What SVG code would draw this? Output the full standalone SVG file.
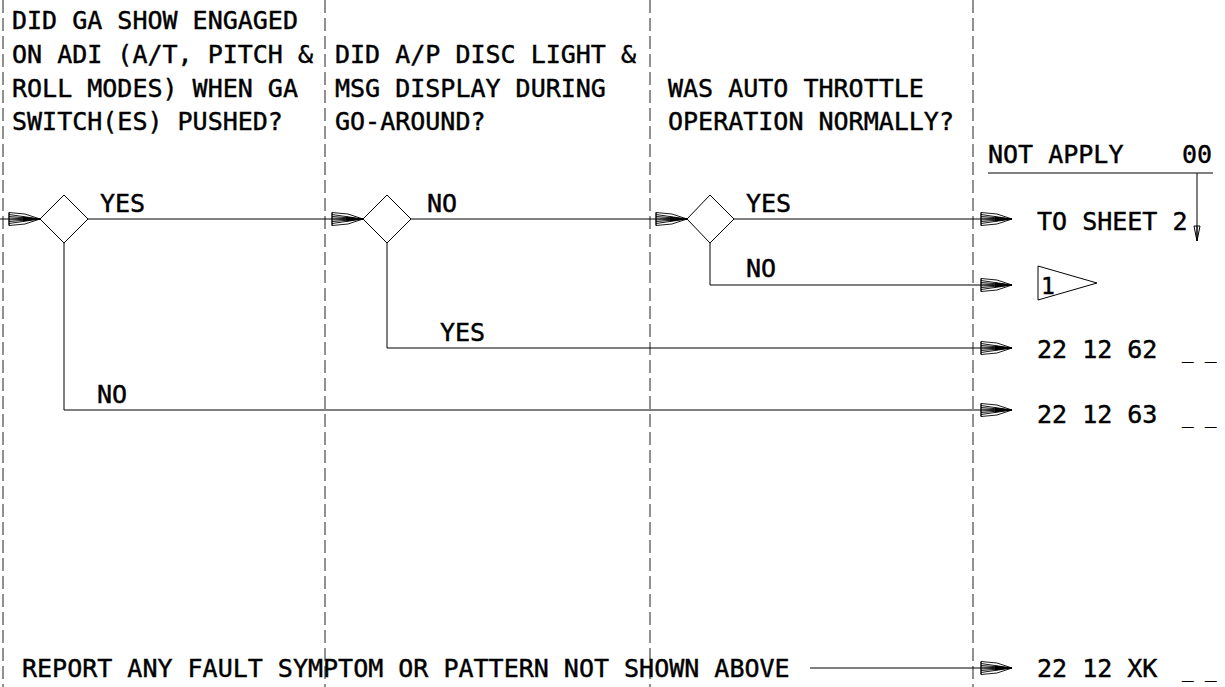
<svg xmlns="http://www.w3.org/2000/svg" width="1225" height="687" viewBox="0 0 1225 687">
<defs>
<style>
text{font-family:"DejaVu Sans Mono","Liberation Mono",monospace;font-size:25px;fill:#000;stroke:#000;stroke-width:0.45}
.us{font-size:19px}
.one{font-size:23px}
.dash{stroke:#222;stroke-width:1;stroke-dasharray:13 5;fill:none}
.ln{stroke:#000;stroke-width:1;fill:none}
.dia{stroke:#000;stroke-width:1;fill:#fff}
</style>
<marker id="ah" markerUnits="userSpaceOnUse" markerWidth="34" markerHeight="16" viewBox="-32 -8 34 16" refX="0" refY="0" orient="auto">
<g fill="none" stroke="#000" stroke-width="0.9">
<polygon points="-31,-6.5 -15,-5 0,0 -15,5 -31,6.5" fill="#fff"/>
<path d="M-31,-4.5 L0,0 M-31,-2.5 L0,0 M-31,-0.8 L0,0 M-31,0.8 L0,0 M-31,2.5 L0,0 M-31,4.5 L0,0 M-31,-6.5 L-31,6.5"/>
</g>
<polygon points="-17,-2.5 0,0 -17,2.5" fill="#000"/>
</marker>
</defs>

<g id="columns">
<line class="dash" x1="3" y1="0" x2="3" y2="687"/>
<line class="dash" x1="325" y1="0" x2="325" y2="687"/>
<line class="dash" x1="650" y1="0" x2="650" y2="687"/>
<line class="dash" x1="973" y1="0" x2="973" y2="687"/>
</g>

<g id="headers">
<text x="12" y="29">DID GA SHOW ENGAGED</text>
<text x="12" y="63">ON ADI (A/T, PITCH &amp;</text>
<text x="12" y="97">ROLL MODES) WHEN GA</text>
<text x="12" y="130">SWITCH(ES) PUSHED?</text>
<text x="335" y="63">DID A/P DISC LIGHT &amp;</text>
<text x="335" y="97">MSG DISPLAY DURING</text>
<text x="335" y="130">GO-AROUND?</text>
<text x="668" y="97">WAS AUTO THROTTLE</text>
<text x="668" y="130">OPERATION NORMALLY?</text>
<text x="988" y="163">NOT APPLY</text>
<text x="1182" y="163">00</text>
<line class="ln" x1="988" y1="173" x2="1213" y2="173"/>
</g>

<g id="connectors">
<line class="ln" x1="0" y1="219" x2="40" y2="219" marker-end="url(#ah)"/>
<line class="ln" x1="88" y1="219" x2="363" y2="219" marker-end="url(#ah)"/>
<line class="ln" x1="411" y1="219" x2="687" y2="219" marker-end="url(#ah)"/>
<line class="ln" x1="734" y1="219" x2="1012" y2="219" marker-end="url(#ah)"/>
<polyline class="ln" points="710,243 710,285 1012,285" marker-end="url(#ah)"/>
<polyline class="ln" points="387,243 387,348 1012,348" marker-end="url(#ah)"/>
<polyline class="ln" points="64,243 64,410 1012,410" marker-end="url(#ah)"/>
<line class="ln" x1="810" y1="668" x2="1012" y2="668" marker-end="url(#ah)"/>
<line class="ln" x1="1197" y1="173" x2="1197" y2="241"/>
<path class="ln" d="M1194,226 L1200,226 L1197,241 Z M1197,226 L1197,241"/>
</g>

<g id="d1">
<polygon class="dia" points="40,219 64,195 88,219 64,243"/>
</g>
<g id="d2">
<polygon class="dia" points="363,219 387,195 411,219 387,243"/>
</g>
<g id="d3">
<polygon class="dia" points="687,219 710,195 734,219 710,243"/>
</g>

<g id="labels">
<text x="100" y="212">YES</text>
<text x="427" y="212">NO</text>
<text x="746" y="212">YES</text>
<text x="746" y="277">NO</text>
<text x="440" y="341">YES</text>
<text x="97" y="403">NO</text>
</g>

<g id="t-sheet2"><text x="1037" y="230">TO SHEET 2</text></g>
<g id="t-flag1">
<polygon class="ln" points="1038,266 1097,283 1038,300"/>
<text class="one" x="1041" y="294">1</text>
</g>
<g id="t-62"><text x="1037" y="358">22 12 62</text><text class="us" x="1182" y="358">_ _</text></g>
<g id="t-63"><text x="1037" y="423">22 12 63</text><text class="us" x="1182" y="423">_ _</text></g>
<g id="t-xk"><text x="1037" y="677">22 12 XK</text><text class="us" x="1182" y="677">_ _</text></g>
<g id="report"><text x="22" y="677">REPORT ANY FAULT SYMPTOM OR PATTERN NOT SHOWN ABOVE</text></g>
</svg>
